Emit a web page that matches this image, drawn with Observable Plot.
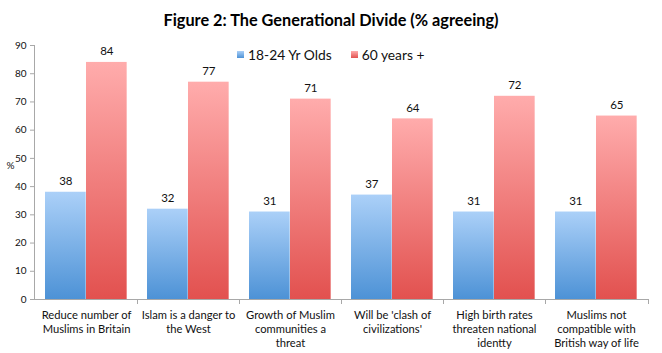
<!DOCTYPE html>
<html>
<head>
<meta charset="utf-8">
<script src="https://cdn.jsdelivr.net/npm/d3@7"></script>
<script src="https://cdn.jsdelivr.net/npm/@observablehq/plot@0.6"></script>
<style>
  body { margin: 0; background: #fff; font-family: Lato, "Open Sans", sans-serif; }
  #wrap { position: relative; width: 662px; height: 353px; overflow: hidden; }
  #title { height: 40px; line-height: 40px; text-align: center; font-weight: bold; font-size: 16.3px; color: #000; padding-left: 0px; }
  #legend { position: absolute; top: 46px; left: 237px; font-size: 13.8px; color: #111; display: flex; align-items: center; white-space: nowrap; }
  .sw { display: inline-block; width: 7px; height: 7px; margin-right: 4px; }
  .item { display: flex; align-items: center; margin-right: 19px; }
</style>
</head>
<body>
<div id="wrap">
  <div id="title">Figure 2: The Generational Divide (% agreeing)</div>
  <div id="chart" style="position:absolute;top:38px;left:0"></div>
  <div id="legend"></div>
</div>
<script>
const categories = [
  "Reduce number of\nMuslims in Britain",
  "Islam is a danger to\nthe West",
  "Growth of Muslim\ncommunities a\nthreat",
  "Will be 'clash of\ncivilizations'",
  "High birth rates\nthreaten national\nidentty",
  "Muslims not\ncompatible with\nBritish way of life"
];
const seriesNames = ["18-24 Yr Olds", "60 years +"];
const youngValues = [38, 32, 31, 37, 31, 31];
const olderValues = [84, 77, 71, 64, 72, 65];
const yTicks = [0, 10, 20, 30, 40, 50, 60, 70, 80, 90];

const rows = categories.map((c, i) => ({cat: c, young: youngValues[i], old: olderValues[i]}));

const gradients = [
  {id: "gBlue", top: "#abd0f8", bottom: "#4d92d6"},
  {id: "gRed", top: "#ffacac", bottom: "#e2514f"}
];

function defsMark() {
  const g = d3.create("svg:g");
  const defs = g.append("defs");
  for (const gr of gradients) {
    const lg = defs.append("linearGradient").attr("id", gr.id).attr("x1", 0).attr("y1", 0).attr("x2", 0).attr("y2", 1);
    lg.append("stop").attr("offset", "0%").attr("stop-color", gr.top);
    lg.append("stop").attr("offset", "100%").attr("stop-color", gr.bottom);
  }
  return g.node();
}

function axisLines(index, scales, values, dims) {
  const {x, y} = scales;
  const L = dims.marginLeft, R = dims.width - dims.marginRight;
  const y0 = y(0), yTop = y(d3.max(yTicks));
  const g = d3.create("svg:g").attr("stroke", "#a8a8a8").attr("stroke-width", 1).attr("shape-rendering", "crispEdges");
  g.append("line").attr("x1", L + 0.5).attr("x2", L + 0.5).attr("y1", yTop).attr("y2", y0);
  g.append("line").attr("x1", L).attr("x2", R).attr("y1", y0 + 0.5).attr("y2", y0 + 0.5);
  const bounds = categories.map(c => x(c)).concat([R]);
  for (const b of bounds.slice(1)) {
    g.append("line").attr("x1", b + 0.5).attr("x2", b + 0.5).attr("y1", y0).attr("y2", y0 + 5);
  }
  return g.node();
}

const W = 662, H = 315, mL = 34, mR = 14;
const step = (W - mL - mR) / categories.length;
const barW = 41, gapOuter = 10;
const blueInL = gapOuter, blueInR = step - gapOuter - barW;
const redInL = gapOuter + barW, redInR = step - gapOuter - 2 * barW;
const blueDx = gapOuter + barW / 2 - step / 2;
const redDx = gapOuter + barW * 1.5 - step / 2;

const chart = Plot.plot({
  width: W,
  height: H,
  marginLeft: mL,
  marginRight: mR,
  marginTop: 7,
  marginBottom: 54,
  style: {fontFamily: "Lato, 'Open Sans', sans-serif", fontSize: "10px", background: "#fff", color: "#111"},
  x: {domain: categories, padding: 0, axis: null},
  y: {domain: [0, 90], label: null, axis: null},
  marks: [
    defsMark,
    Plot.barY(rows, {x: "cat", y: "young", fill: "url(#gBlue)", insetLeft: blueInL, insetRight: blueInR}),
    Plot.barY(rows, {x: "cat", y: "old", fill: "url(#gRed)", insetLeft: redInL, insetRight: redInR}),
    Plot.text(rows, {x: "cat", y: "young", text: d => String(d.young), dx: blueDx, dy: -11, fontSize: 11.5, fill: "#111"}),
    Plot.text(rows, {x: "cat", y: "old", text: d => String(d.old), dx: redDx, dy: -11, fontSize: 11.5, fill: "#111"}),
    axisLines,
    Plot.axisY({ticks: yTicks, tickSize: 4, tickPadding: 4, stroke: "#a8a8a8", fill: "#111", fontSize: 10, label: null}),
    Plot.axisX({tickSize: 0, tickPadding: 10, fontSize: 11.2, lineHeight: 1.25, fill: "#111", label: null}),
    Plot.text(["%"], {frameAnchor: "left", dx: -28, dy: -7, fontSize: 10, fill: "#111"})
  ]
});
document.getElementById("chart").appendChild(chart);

const legend = document.getElementById("legend");
seriesNames.forEach((name, i) => {
  const item = document.createElement("span");
  item.className = "item";
  const sw = document.createElement("span");
  sw.className = "sw";
  sw.style.background = `linear-gradient(${gradients[i].top}, ${gradients[i].bottom})`;
  item.appendChild(sw);
  item.appendChild(document.createTextNode(name));
  legend.appendChild(item);
});
</script>
</body>
</html>
